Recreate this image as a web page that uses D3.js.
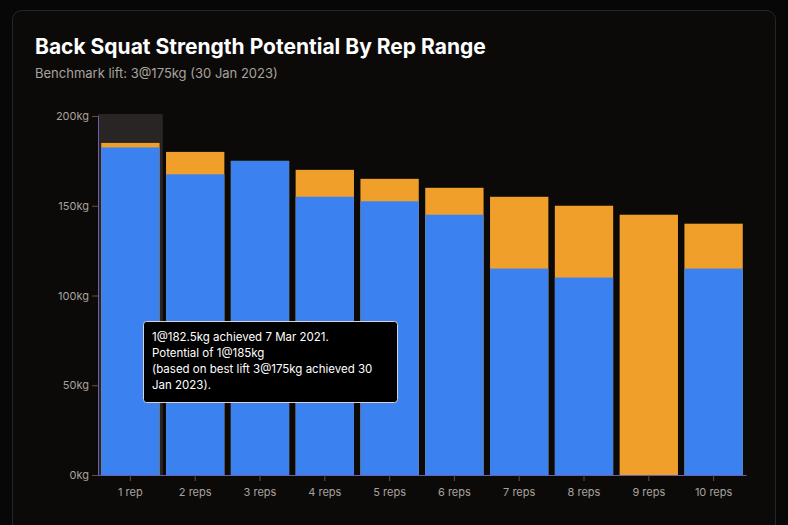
<!DOCTYPE html><html><head><meta charset="utf-8"><script src="https://cdn.jsdelivr.net/npm/d3@7"></script>
<style>body{margin:0;background:#070707;font-family:Inter,sans-serif}</style></head><body><svg id="c" width="788" height="525"></svg>
<script>
const categories=["1 rep","2 reps","3 reps","4 reps","5 reps","6 reps","7 reps","8 reps","9 reps","10 reps"];
const achieved=[182.5,167.5,175,155,152.5,145,115,110,0,115];
const potential=[185,180,175,170,165,160,155,150,145,140];
const yTicks=[0,50,100,150,200];
const svg=d3.select("#c");
svg.append("rect").attr("x",12.5).attr("y",10.5).attr("width",763).attr("height",540).attr("rx",9).attr("fill","#0c0a09").attr("stroke","#292524");
svg.append("text").attr("x",35).attr("y",54).attr("fill","#fff").attr("font-size",21).attr("font-weight",700).text("Back Squat Strength Potential By Rep Range");
svg.append("text").attr("x",35).attr("y",78).attr("fill","#a8a29e").attr("font-size",13).text("Benchmark lift: 3@175kg (30 Jan 2023)");
const x=d3.scaleBand().domain(categories).range([98,746]).paddingInner(0.1).paddingOuter(0.05);
const y=d3.scaleLinear().domain([0,200]).range([475,116]);
const g=svg.append("g");
const bw=x.step();
g.append("rect").attr("x",x(categories[0])-x.step()*0.05).attr("y",y(200)-2).attr("width",x.bandwidth()+x.step()*0.1).attr("height",y(0)-y(200)+2).attr("fill","#292524");
g.selectAll(".p").data(categories).join("rect").attr("x",d=>x(d)).attr("width",x.bandwidth()).attr("y",(d,i)=>y(potential[i])).attr("height",(d,i)=>y(0)-y(potential[i])).attr("fill","#f0a02a");
g.selectAll(".a").data(categories).join("rect").attr("x",d=>x(d)).attr("width",x.bandwidth()).attr("y",(d,i)=>y(achieved[i])).attr("height",(d,i)=>y(0)-y(achieved[i])).attr("fill","#3b82f0");
const ya=svg.append("g").attr("transform","translate(98,0)").call(d3.axisLeft(y).tickValues(yTicks).tickFormat(d=>d+"kg").tickSizeOuter(6));
const xa=svg.append("g").attr("transform","translate(0,475)").call(d3.axisBottom(x).tickSizeOuter(0));
[ya,xa].forEach(a=>{a.selectAll("path,line").attr("stroke","#6d5fb0");a.selectAll("text").attr("fill","#a8a29e").attr("font-size",11).attr("font-family","Inter,sans-serif");});
xa.selectAll("line").attr("stroke","#57534e");xa.selectAll("text").attr("dy","1.1em");
ya.selectAll(".tick line").attr("stroke","#57534e");
const tip=svg.append("g").attr("transform","translate(143,321)");
tip.append("rect").attr("x",.5).attr("y",.5).attr("width",254).attr("height",81).attr("rx",3).attr("fill","#000").attr("stroke","#d6d3d1");
["1@182.5kg achieved 7 Mar 2021.","Potential of 1@185kg","(based on best lift 3@175kg achieved 30","Jan 2023)."].forEach((t,i)=>tip.append("text").attr("x",9).attr("y",20+i*16).attr("fill","#fff").attr("font-size",11.5).text(t));
</script></body></html>
